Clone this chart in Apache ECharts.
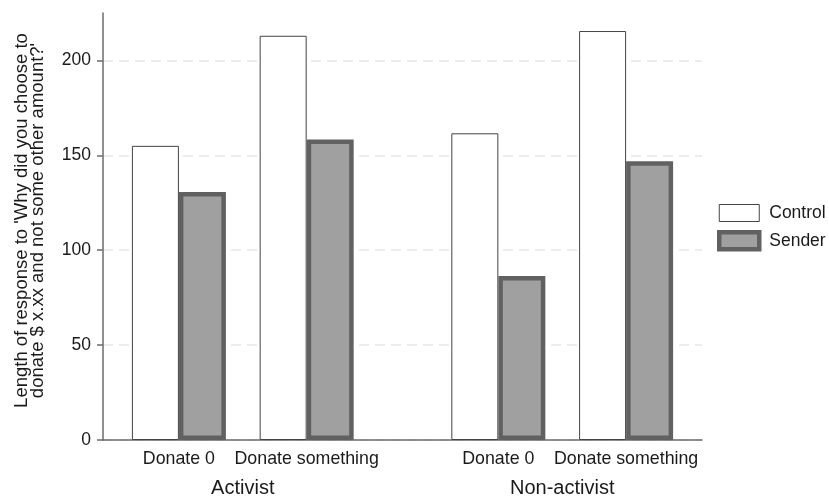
<!DOCTYPE html>
<html>
<head>
<meta charset="utf-8">
<script src="https://cdn.jsdelivr.net/npm/echarts@6/dist/echarts.min.js"></script>
<style>
  html, body { margin: 0; padding: 0; background: #fff; }
  #chart { width: 829px; height: 499px; }
</style>
</head>
<body>
<div id="chart"></div>
<script>
// Mean length of the free-text answer, by activist status and donation choice
const groups = ['Activist', 'Non-activist'];
const subgroups = ['Donate 0', 'Donate something'];
const seriesNames = ['Control', 'Sender'];
const controlValues = [155.0, 213.0, 161.6, 215.5];
const senderValues = [130.7, 158.3, 86.4, 146.9];
const yTicks = [0, 50, 100, 150, 200];

const FONT = '"Liberation Sans", Arial, sans-serif';

// Bar clusters sit one unit apart inside a group, groups are separated by an extra gap
const GROUP_STEP = 2.5;
const clusterPos = [];
const clusterLabel = {};
groups.forEach((g, gi) => {
  subgroups.forEach((s, si) => {
    const p = 1 + si + gi * GROUP_STEP;
    clusterPos.push(p);
    clusterLabel[p] = s;
  });
});
const groupPos = groups.map((g, gi) => 1.5 + gi * GROUP_STEP);
const groupLabel = {};
groups.forEach((g, gi) => { groupLabel[groupPos[gi]] = g; });

const X_MIN = 0.406, X_MAX = 5.094;

const chart = echarts.init(document.getElementById('chart'), null, { renderer: 'canvas' });
chart.setOption({
  animation: false,
  backgroundColor: '#ffffff',
  grid: { left: 103, right: 127, top: 13, bottom: 59, containLabel: false },
  legend: {
    orient: 'vertical',
    left: 712,
    top: 199,
    itemWidth: 40,
    itemHeight: 17,
    itemGap: 8,
    icon: 'rect',
    selectedMode: false,
    textStyle: { fontFamily: FONT, fontSize: 17.5, color: '#1a1a1a', padding: [0, 0, 0, 5] },
    data: [
      { name: seriesNames[0], itemStyle: { color: '#ffffff', borderColor: '#444444', borderWidth: 1 } },
      { name: seriesNames[1], itemStyle: { color: '#a0a0a0', borderColor: '#616161', borderWidth: 4.5 } }
    ]
  },
  xAxis: [
    {
      type: 'value',
      min: X_MIN,
      max: X_MAX,
      axisLine: { show: true, lineStyle: { color: '#6b6b6b', width: 1.5 } },
      axisTick: { show: false },
      splitLine: { show: false },
      axisLabel: {
        customValues: clusterPos,
        margin: 10,
        fontFamily: FONT,
        fontSize: 17.8,
        color: '#1a1a1a',
        formatter: v => clusterLabel[v] || ''
      }
    },
    {
      type: 'value',
      min: X_MIN,
      max: X_MAX,
      position: 'bottom',
      axisLine: { show: false },
      axisTick: { show: false },
      splitLine: { show: false },
      axisLabel: {
        customValues: groupPos,
        margin: 38,
        fontFamily: FONT,
        fontSize: 20,
        color: '#1a1a1a',
        formatter: v => groupLabel[v] || ''
      }
    }
  ],
  yAxis: {
    type: 'value',
    min: 0,
    max: 225,
    interval: 50,
    name: "Length of response to 'Why did you choose to\ndonate $ x.xx and not some other amount?'",
    nameLocation: 'middle',
    nameGap: 57,
    nameTextStyle: {
      fontFamily: FONT, fontSize: 18.5, lineHeight: 16, color: '#1a1a1a', align: 'center',
      padding: [0, 0, 0, 12]
    },
    axisLine: { show: true, lineStyle: { color: '#6b6b6b', width: 1.5 } },
    axisTick: { show: true, length: 6, lineStyle: { color: '#6b6b6b', width: 1.5 }, customValues: yTicks },
    axisLabel: {
      customValues: yTicks,
      margin: 12,
      fontFamily: FONT,
      fontSize: 17.5,
      color: '#1a1a1a'
    },
    splitLine: {
      show: true,
      lineStyle: { color: '#e8e8e8', width: 1.5, type: [10, 6] }
    }
  },
  series: [
    {
      name: seriesNames[0],
      type: 'bar',
      xAxisIndex: 0,
      barWidth: 47,
      barGap: '0%',
      itemStyle: { color: '#ffffff', borderColor: '#444444', borderWidth: 1 },
      data: controlValues.map((v, i) => [clusterPos[i], v])
    },
    {
      name: seriesNames[1],
      type: 'bar',
      xAxisIndex: 0,
      barWidth: 47,
      barGap: '0%',
      itemStyle: { color: '#a0a0a0', borderColor: '#616161', borderWidth: 4.5 },
      data: senderValues.map((v, i) => [clusterPos[i], v])
    }
  ]
});
</script>
</body>
</html>
